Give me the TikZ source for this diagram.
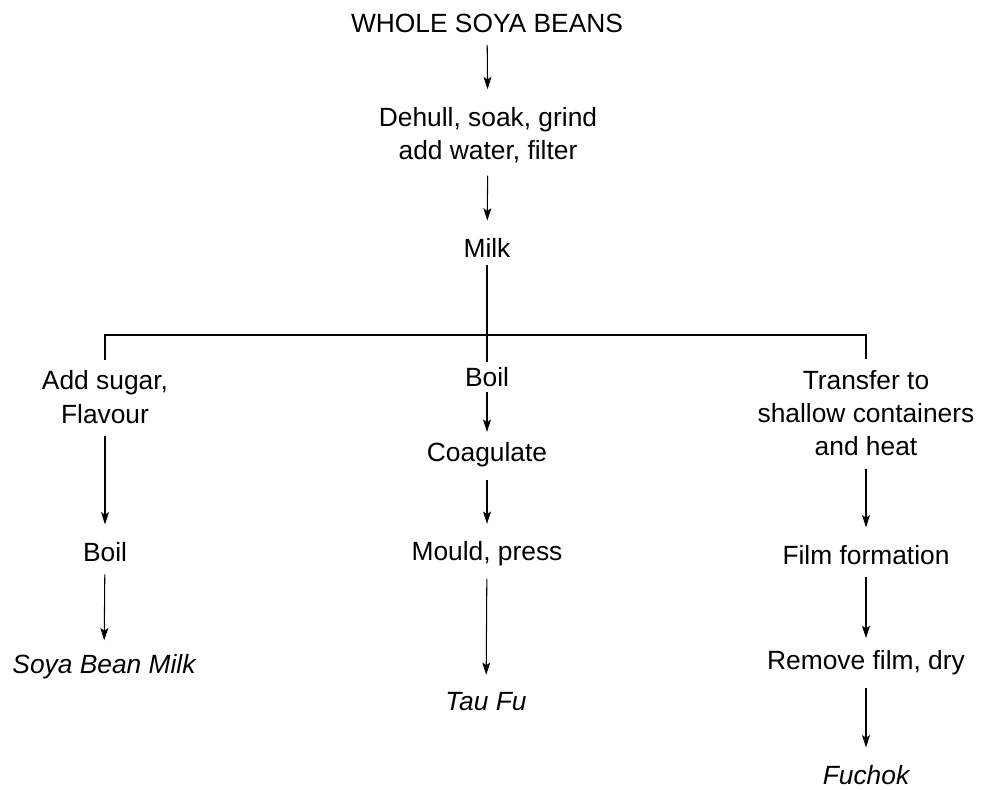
\documentclass[tikz,border=0pt]{standalone}
\usepackage{fontspec}
\setmainfont{Liberation Sans}
\usetikzlibrary{arrows.meta}

\begin{document}
\begin{tikzpicture}[x=0.02cm,y=-0.02cm,
    every node/.style={inner sep=1pt,align=center,font=\fontsize{15}{19}\selectfont},
    flow/.style={line width=0.6pt,-{Stealth[length=7pt,width=4.5pt,inset=1.5pt]},
      shorten <=6pt,shorten >=9pt},
    branch/.style={line width=0.6pt}]
    \useasboundingbox (0,0) rectangle (981,790);

    % Common trunk
    \node (beans)  at (487,23)  {WHOLE SOYA BEANS};
    \node (dehull) at (488,135) {Dehull, soak, grind\\add water, filter};
    \node (milk)   at (487,248) {Milk};
    \coordinate (bar) at (487,335);
    \draw[flow] (beans) -- (dehull);
    \draw[flow] (dehull) -- (milk);

    % Soya bean milk (left)
    \node (sugar) at (105,397) {Add sugar,\\Flavour};
    \node (lboil) at (105,552) {Boil};
    \node (sbm)   at (104,667) {\itshape Soya Bean Milk};
    \draw[flow] (sugar) -- (lboil);
    \draw[flow,shorten >=7pt] (lboil) -- (sbm);

    % Tau fu (middle)
    \node (mboil) at (487,377) {Boil};
    \node (coag)  at (487,455) {Coagulate};
    \node (mould) at (487,554) {Mould, press};
    \node (taufu) at (486,702) {\itshape Tau Fu};
    \draw[branch,shorten <=3pt,shorten >=2pt] (milk) -- (mboil);
    \draw[flow,shorten <=2pt,shorten >=5pt] (mboil) -- (coag);
    \draw[flow] (coag) -- (mould);
    \draw[flow] (mould) -- (taufu);

    % Fuchok (right)
    \node (transfer) at (866,413) {Transfer to\\shallow containers\\and heat};
    \node (film)     at (866,555) {Film formation};
    \node (remove)   at (866,663) {Remove film, dry};
    \node (fuchok)   at (866,775) {\itshape Fuchok};
    \draw[flow] (transfer) -- (film);
    \draw[flow,shorten >=6pt] (film) -- (remove);
    \draw[flow] (remove) -- (fuchok);

    % Branch bar
    \draw[branch,shorten <=5pt,shorten >=5pt] (sugar.north) |- (bar) -| (transfer.north);
  \end{tikzpicture}
\end{document}
